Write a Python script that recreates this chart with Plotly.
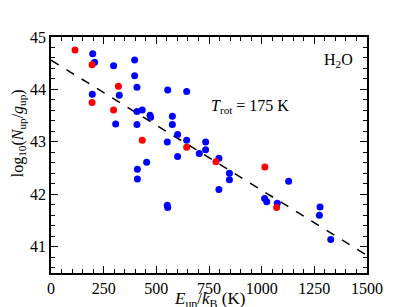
import numpy as np
import plotly.graph_objects as go

# Blue data points (E_up/k_B in K, log10(N_up/g_up))
blue_E = [198, 207, 196, 297, 397, 397, 408, 324, 307, 408, 408, 433, 470, 473,
          554, 644, 576, 576, 601, 552, 644, 734, 734, 704, 601, 797, 454, 410,
          410, 847, 847, 797, 552, 554, 1014, 1024, 1074, 1128, 1277, 1274, 1328]
blue_N = [44.68, 44.52, 43.91, 44.45, 44.56, 44.26, 44.04, 43.89, 43.34, 43.58,
          43.33, 43.61, 43.51, 43.47, 43.99, 43.96, 43.49, 43.33, 43.14, 43.00,
          43.03, 43.00, 42.85, 42.78, 42.72, 42.69, 42.61, 42.48, 42.29, 42.40,
          42.28, 42.09, 41.79, 41.75, 41.92, 41.86, 41.83, 42.25, 41.76, 41.60,
          41.14]

# Red data points
red_E = [114, 195, 195, 320, 297, 433, 644, 783, 1015, 1071]
red_N = [44.75, 44.47, 43.75, 44.06, 43.61, 43.03, 42.90, 42.62, 42.52, 41.75]

# Rotation-diagram fit parameters
T_rot = 175.0
intercept = 44.56
fit_E = np.array([0.0, 1500.0])
fit_N = intercept - np.log10(np.e) * fit_E / T_rot

fig = go.Figure()
fig.add_trace(go.Scatter(x=fit_E, y=fit_N, mode="lines",
                         line=dict(color="black", width=1.5, dash="dash"),
                         showlegend=False, hoverinfo="skip"))
fig.add_trace(go.Scatter(x=blue_E, y=blue_N, mode="markers",
                         marker=dict(color="#0000FF", size=7), showlegend=False))
fig.add_trace(go.Scatter(x=red_E, y=red_N, mode="markers",
                         marker=dict(color="#FF0000", size=7), showlegend=False))

font_family = "Liberation Serif, Times New Roman, serif"
axis_common = dict(
    showgrid=False, zeroline=False, showline=True, linecolor="black", linewidth=1.5,
    mirror="ticks", ticks="inside", ticklen=7, tickwidth=1.2, tickcolor="black",
    tickfont=dict(family=font_family, size=16, color="black"), automargin=False,
)

fig.update_xaxes(range=[0, 1500], dtick=250, tick0=0,
                 minor=dict(ticks="inside", ticklen=4, dtick=50, tickcolor="black", tickwidth=1),
                 **axis_common)
fig.update_yaxes(range=[40.5, 45], dtick=1, tick0=41,
                 minor=dict(ticks="inside", ticklen=4, dtick=0.2, tickcolor="black", tickwidth=1),
                 **axis_common)

# Axis titles as annotations for precise placement
fig.add_annotation(x=0.5, y=-0.114, xref="paper", yref="paper", xanchor="center", yanchor="middle",
                   text="<i>E</i><sub>up</sub>/<i>k</i><sub>B</sub> (K)", showarrow=False,
                   font=dict(family=font_family, size=17, color="black"))
fig.add_annotation(x=-0.104, y=0.593, xref="paper", yref="paper", xanchor="center", yanchor="middle",
                   text="log<sub>10</sub>(<i>N</i><sub>up</sub>/<i>g</i><sub>up</sub>)", showarrow=False,
                   textangle=-90, font=dict(family=font_family, size=16, color="black"))

fig.add_annotation(x=0.962, y=0.9, xref="paper", yref="paper", xanchor="right", yanchor="middle",
                   text="H<sub>2</sub>O", showarrow=False,
                   font=dict(family=font_family, size=16, color="black"))
fig.add_annotation(x=0.5, y=0.705, xref="paper", yref="paper", xanchor="left", yanchor="middle",
                   text="<i>T</i><sub>rot</sub> = 175 K", showarrow=False,
                   font=dict(family=font_family, size=16, color="black"))

fig.update_layout(width=409, height=307, margin=dict(l=51, r=42, t=37, b=34),
                  plot_bgcolor="white", paper_bgcolor="white",
                  font=dict(family=font_family, color="black"))

fig.write_html("out.html", config={"displayModeBar": False},
               post_script="document.body.style.margin='0';document.body.style.padding='0';"
                           "document.body.style.overflow='hidden';")
